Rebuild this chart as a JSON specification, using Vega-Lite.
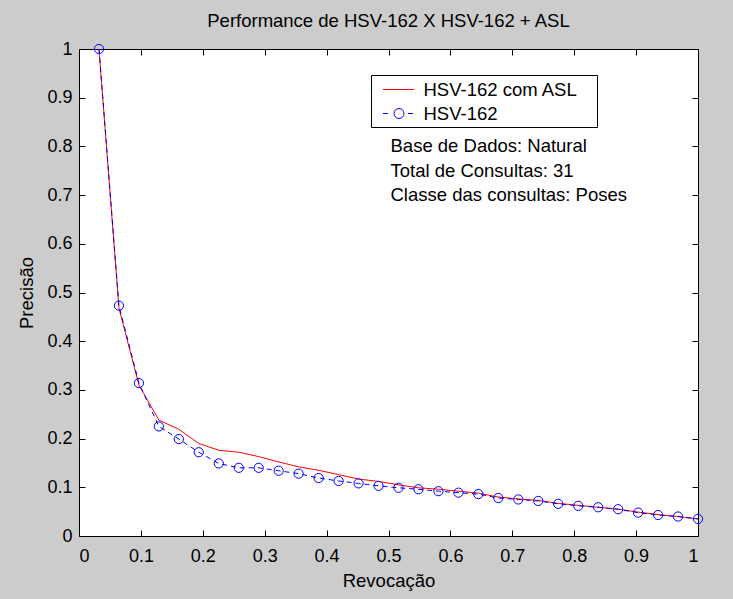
{
  "$schema": "https://vega.github.io/schema/vega-lite/v6.json",
  "width": 619,
  "height": 487,
  "autosize": {"type": "none"},
  "padding": {"left": 79, "top": 49, "right": 35, "bottom": 63},
  "background": "#cccccc",
  "title": {"text": "Performance de HSV-162 X HSV-162 + ASL", "fontSize": 18.5, "fontWeight": "normal", "font": "Liberation Sans", "color": "black", "offset": 10},
  "config": {
    "view": {"fill": "white", "stroke": "black", "strokeWidth": 1},
    "axis": {"grid": false, "domainColor": "black", "tickColor": "black", "labelColor": "black", "titleColor": "black", "labelFont": "Liberation Sans", "titleFont": "Liberation Sans", "labelFontSize": 18, "titleFontSize": 18.5, "titleFontWeight": "normal", "tickSize": -6, "domainWidth": 1, "tickWidth": 1},
    "text": {"font": "Liberation Sans"}
  },
  "datasets": {
    "pr": [
      {"recall": 0.0323, "precision": 1.0, "series": "HSV-162 com ASL"},
      {"recall": 0.0645, "precision": 0.468, "series": "HSV-162 com ASL"},
      {"recall": 0.0968, "precision": 0.31, "series": "HSV-162 com ASL"},
      {"recall": 0.129, "precision": 0.238, "series": "HSV-162 com ASL"},
      {"recall": 0.1613, "precision": 0.219, "series": "HSV-162 com ASL"},
      {"recall": 0.1935, "precision": 0.19, "series": "HSV-162 com ASL"},
      {"recall": 0.2258, "precision": 0.176, "series": "HSV-162 com ASL"},
      {"recall": 0.2581, "precision": 0.172, "series": "HSV-162 com ASL"},
      {"recall": 0.2903, "precision": 0.163, "series": "HSV-162 com ASL"},
      {"recall": 0.3226, "precision": 0.152, "series": "HSV-162 com ASL"},
      {"recall": 0.3548, "precision": 0.142, "series": "HSV-162 com ASL"},
      {"recall": 0.3871, "precision": 0.135, "series": "HSV-162 com ASL"},
      {"recall": 0.4194, "precision": 0.126, "series": "HSV-162 com ASL"},
      {"recall": 0.4516, "precision": 0.117, "series": "HSV-162 com ASL"},
      {"recall": 0.4839, "precision": 0.112, "series": "HSV-162 com ASL"},
      {"recall": 0.5161, "precision": 0.105, "series": "HSV-162 com ASL"},
      {"recall": 0.5484, "precision": 0.099, "series": "HSV-162 com ASL"},
      {"recall": 0.5806, "precision": 0.096, "series": "HSV-162 com ASL"},
      {"recall": 0.6129, "precision": 0.092, "series": "HSV-162 com ASL"},
      {"recall": 0.6452, "precision": 0.088, "series": "HSV-162 com ASL"},
      {"recall": 0.6774, "precision": 0.08, "series": "HSV-162 com ASL"},
      {"recall": 0.7097, "precision": 0.076, "series": "HSV-162 com ASL"},
      {"recall": 0.7419, "precision": 0.073, "series": "HSV-162 com ASL"},
      {"recall": 0.7742, "precision": 0.067, "series": "HSV-162 com ASL"},
      {"recall": 0.8065, "precision": 0.063, "series": "HSV-162 com ASL"},
      {"recall": 0.8387, "precision": 0.059, "series": "HSV-162 com ASL"},
      {"recall": 0.871, "precision": 0.055, "series": "HSV-162 com ASL"},
      {"recall": 0.9032, "precision": 0.049, "series": "HSV-162 com ASL"},
      {"recall": 0.9355, "precision": 0.044, "series": "HSV-162 com ASL"},
      {"recall": 0.9677, "precision": 0.04, "series": "HSV-162 com ASL"},
      {"recall": 1.0, "precision": 0.035, "series": "HSV-162 com ASL"},
      {"recall": 0.0323, "precision": 1.0, "series": "HSV-162"},
      {"recall": 0.0645, "precision": 0.473, "series": "HSV-162"},
      {"recall": 0.0968, "precision": 0.314, "series": "HSV-162"},
      {"recall": 0.129, "precision": 0.225, "series": "HSV-162"},
      {"recall": 0.1613, "precision": 0.199, "series": "HSV-162"},
      {"recall": 0.1935, "precision": 0.172, "series": "HSV-162"},
      {"recall": 0.2258, "precision": 0.149, "series": "HSV-162"},
      {"recall": 0.2581, "precision": 0.14, "series": "HSV-162"},
      {"recall": 0.2903, "precision": 0.14, "series": "HSV-162"},
      {"recall": 0.3226, "precision": 0.134, "series": "HSV-162"},
      {"recall": 0.3548, "precision": 0.128, "series": "HSV-162"},
      {"recall": 0.3871, "precision": 0.119, "series": "HSV-162"},
      {"recall": 0.4194, "precision": 0.113, "series": "HSV-162"},
      {"recall": 0.4516, "precision": 0.108, "series": "HSV-162"},
      {"recall": 0.4839, "precision": 0.103, "series": "HSV-162"},
      {"recall": 0.5161, "precision": 0.099, "series": "HSV-162"},
      {"recall": 0.5484, "precision": 0.096, "series": "HSV-162"},
      {"recall": 0.5806, "precision": 0.092, "series": "HSV-162"},
      {"recall": 0.6129, "precision": 0.089, "series": "HSV-162"},
      {"recall": 0.6452, "precision": 0.086, "series": "HSV-162"},
      {"recall": 0.6774, "precision": 0.078, "series": "HSV-162"},
      {"recall": 0.7097, "precision": 0.075, "series": "HSV-162"},
      {"recall": 0.7419, "precision": 0.072, "series": "HSV-162"},
      {"recall": 0.7742, "precision": 0.066, "series": "HSV-162"},
      {"recall": 0.8065, "precision": 0.062, "series": "HSV-162"},
      {"recall": 0.8387, "precision": 0.059, "series": "HSV-162"},
      {"recall": 0.871, "precision": 0.055, "series": "HSV-162"},
      {"recall": 0.9032, "precision": 0.048, "series": "HSV-162"},
      {"recall": 0.9355, "precision": 0.043, "series": "HSV-162"},
      {"recall": 0.9677, "precision": 0.04, "series": "HSV-162"},
      {"recall": 1.0, "precision": 0.035, "series": "HSV-162"}
    ],
    "notes": [
      {"x": 0.5, "y": 0.8, "label": "Base de Dados: Natural"},
      {"x": 0.5, "y": 0.75, "label": "Total de Consultas: 31"},
      {"x": 0.5, "y": 0.7, "label": "Classe das consultas: Poses"}
    ]
  },
  "layer": [
    {
      "data": {"name": "pr"},
      "transform": [{"filter": "datum.series == 'HSV-162 com ASL'"}],
      "mark": {"type": "line", "color": "#ff0000", "strokeWidth": 1},
      "encoding": {
        "x": {"field": "recall", "type": "quantitative", "scale": {"domain": [0, 1], "nice": false},
          "axis": {"orient": "bottom", "values": [0, 0.1, 0.2, 0.3, 0.4, 0.5, 0.6, 0.7, 0.8, 0.9, 1], "format": "~g", "title": "Revocação", "labelPadding": 17, "titlePadding": 6}},
        "y": {"field": "precision", "type": "quantitative", "scale": {"domain": [0, 1], "nice": false},
          "axis": {"orient": "left", "values": [0, 0.1, 0.2, 0.3, 0.4, 0.5, 0.6, 0.7, 0.8, 0.9, 1], "format": "~g", "title": "Precisão", "labelPadding": 13, "titlePadding": 10}}
      }
    },
    {
      "data": {"name": "pr"},
      "transform": [{"filter": "datum.series == 'HSV-162'"}],
      "mark": {"type": "line", "color": "#0000ff", "strokeWidth": 1, "strokeDash": [5, 4]},
      "encoding": {
        "x": {"field": "recall", "type": "quantitative", "axis": null},
        "y": {"field": "precision", "type": "quantitative", "axis": null}
      }
    },
    {
      "data": {"name": "pr"},
      "transform": [{"filter": "datum.series == 'HSV-162'"}],
      "mark": {"type": "point", "shape": "circle", "filled": false, "color": "#0000ff", "size": 85, "strokeWidth": 1, "opacity": 1},
      "encoding": {
        "x": {"field": "recall", "type": "quantitative", "axis": null},
        "y": {"field": "precision", "type": "quantitative", "axis": null}
      }
    },
    {
      "data": {"name": "notes"},
      "mark": {"type": "text", "align": "left", "baseline": "middle", "fontSize": 18.5, "color": "black", "dx": 2},
      "encoding": {
        "x": {"field": "x", "type": "quantitative", "axis": {"orient": "top", "values": [0, 0.1, 0.2, 0.3, 0.4, 0.5, 0.6, 0.7, 0.8, 0.9, 1], "labels": false, "title": null}},
        "y": {"field": "y", "type": "quantitative", "axis": {"orient": "right", "values": [0, 0.1, 0.2, 0.3, 0.4, 0.5, 0.6, 0.7, 0.8, 0.9, 1], "labels": false, "title": null}},
        "text": {"field": "label"}
      }
    },
    {
      "data": {"name": "pr"},
      "transform": [{"filter": "datum.recall > 2"}],
      "mark": {"type": "point", "filled": false, "size": 400, "strokeWidth": 1},
      "encoding": {
        "x": {"field": "recall", "type": "quantitative", "axis": null},
        "y": {"field": "precision", "type": "quantitative", "axis": null},
        "color": {"field": "series", "type": "nominal",
          "scale": {"domain": ["HSV-162 com ASL", "HSV-162"], "range": ["#ff0000", "#0000ff"]},
          "legend": {"title": "\u00a0", "titleOrient": "right", "titlePadding": 15, "titleFontSize": 10, "orient": "none", "legendX": 292, "legendY": 26, "strokeColor": "black", "fillColor": "white", "padding": 4, "rowPadding": 4, "symbolSize": 400, "symbolStrokeWidth": 1, "symbolOpacity": 1, "symbolFillColor": "transparent", "labelFontSize": 18.5, "labelFont": "Liberation Sans", "labelColor": "black", "labelLimit": 400, "labelOffset": 14, "symbolOffset": 13.5}},
        "shape": {"field": "series", "type": "nominal",
          "scale": {"domain": ["HSV-162 com ASL", "HSV-162"], "range": ["M-1.6,0L1.5,0", "M-1.6,0L-1.1,0M0.5,0A0.5,0.5 0 1,1 -0.5,0A0.5,0.5 0 1,1 0.5,0M0.9,0L1.4,0"]},
          "legend": {"title": "\u00a0", "titleOrient": "right", "titlePadding": 15, "titleFontSize": 10, "orient": "none", "legendX": 292, "legendY": 26, "strokeColor": "black", "fillColor": "white", "padding": 4, "rowPadding": 4, "symbolSize": 400, "symbolStrokeWidth": 1, "symbolOpacity": 1, "symbolFillColor": "transparent", "labelFontSize": 18.5, "labelFont": "Liberation Sans", "labelColor": "black", "labelLimit": 400, "labelOffset": 14, "symbolOffset": 13.5}}
      }
    }
  ],
  "resolve": {"axis": {"x": "independent", "y": "independent"}}
}
